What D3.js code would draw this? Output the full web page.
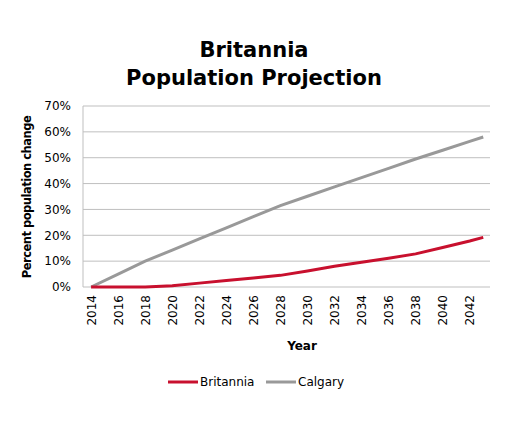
<!DOCTYPE html>
<html><head><meta charset="utf-8">
<script src="https://cdn.jsdelivr.net/npm/d3@7"></script>
<style>body{margin:0;background:#fff;font-family:"DejaVu Sans",sans-serif}</style>
</head><body><div id="chart"></div>
<script>
var years = [2014, 2016, 2018, 2020, 2022, 2024, 2026, 2028, 2030, 2032, 2034, 2036, 2038, 2040, 2042, 2043];
var britannia = [0, 0, 0, 0.5, 1.5, 2.5, 3.5, 4.5, 6.2, 8, 9.6, 11.1, 12.8, 15.3, 17.8, 19.2];
var calgary = [0, 5, 10, 14.3, 18.6, 22.9, 27.2, 31.5, 35.1, 38.7, 42.3, 45.9, 49.5, 52.9, 56.3, 58];
var xTicks = [2014, 2016, 2018, 2020, 2022, 2024, 2026, 2028, 2030, 2032, 2034, 2036, 2038, 2040, 2042];
var yTicks = [0, 10, 20, 30, 40, 50, 60, 70];

var svg = d3.select("#chart").append("svg").attr("width", 509).attr("height", 425);

var x = d3.scaleLinear().domain([2013.4, 2043.5]).range([83, 490]);
var y = d3.scaleLinear().domain([0, 70]).range([287, 106]);

// gridlines
svg.append("g").selectAll("line").data(yTicks).enter().append("line")
    .attr("x1", 83).attr("x2", 490)
    .attr("y1", d => y(d)).attr("y2", d => y(d))
    .attr("stroke", "#bfbfbf").attr("stroke-width", 1);

svg.append("line").attr("x1", 83).attr("x2", 83).attr("y1", 106).attr("y2", 287)
    .attr("stroke", "#bfbfbf");

var yAxis = svg.append("g").attr("transform", "translate(83,0)")
    .call(d3.axisLeft(y).tickValues(yTicks).tickFormat(d => d + "%").tickSize(0).tickPadding(12));
yAxis.select(".domain").remove();
yAxis.selectAll("text").attr("font-size", 12).attr("fill", "#000").attr("font-family", "DejaVu Sans");

var xAxis = svg.append("g").attr("transform", "translate(0,287)")
    .call(d3.axisBottom(x).tickValues(xTicks).tickFormat(d3.format("d")).tickSize(0));
xAxis.select(".domain").remove();
xAxis.selectAll("text").attr("font-size", 12).attr("fill", "#000").attr("font-family", "DejaVu Sans")
    .attr("transform", "rotate(-90)").attr("text-anchor", "end")
    .attr("x", -8).attr("y", 0).attr("dy", "0.35em");

var line = d3.line().x((d, i) => x(years[i])).y(d => y(d));
svg.append("path").datum(calgary).attr("d", line).attr("fill", "none")
    .attr("stroke", "#999999").attr("stroke-width", 3);
svg.append("path").datum(britannia).attr("d", line).attr("fill", "none")
    .attr("stroke", "#c8102e").attr("stroke-width", 3);

// titles
svg.append("text").attr("x", 254).attr("y", 57).attr("text-anchor", "middle")
    .attr("font-size", 21).attr("font-weight", "bold").text("Britannia");
svg.append("text").attr("x", 254).attr("y", 85).attr("text-anchor", "middle")
    .attr("font-size", 21).attr("font-weight", "bold").text("Population Projection");

svg.append("text").attr("x", 302).attr("y", 350).attr("text-anchor", "middle")
    .attr("font-size", 12).attr("font-weight", "bold").text("Year");
svg.append("text").attr("transform", "translate(31,197) rotate(-90)").attr("text-anchor", "middle")
    .attr("font-size", 11.5).attr("font-weight", "bold").attr("letter-spacing", -0.5)
    .text("Percent population change");

// legend
var legend = [{name: "Britannia", color: "#c8102e", x: 168}, {name: "Calgary", color: "#999999", x: 266}];
var lg = svg.append("g").selectAll("g").data(legend).enter().append("g");
lg.append("line").attr("x1", d => d.x).attr("x2", d => d.x + 30).attr("y1", 382).attr("y2", 382)
    .attr("stroke", d => d.color).attr("stroke-width", 3);
lg.append("text").attr("x", d => d.x + 32).attr("y", 386).attr("font-size", 12).text(d => d.name);
</script>
</body></html>
